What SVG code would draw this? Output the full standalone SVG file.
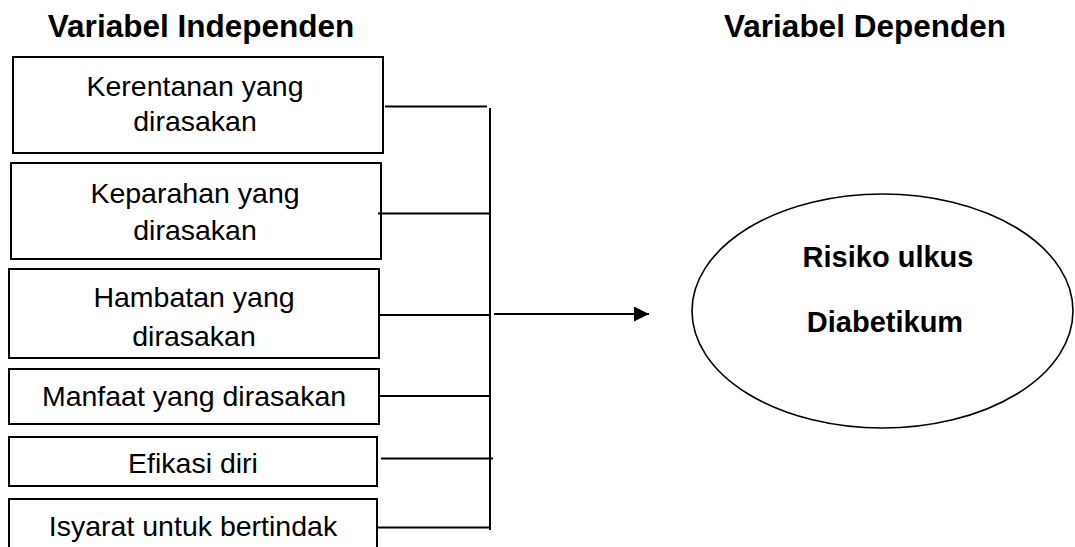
<svg xmlns="http://www.w3.org/2000/svg" width="1075" height="547" viewBox="0 0 1075 547">
<style>
.box{fill:#fff;stroke:#000;stroke-width:2}
.t{font-family:"Liberation Sans",Arial,sans-serif;font-size:28.5px;fill:#000;text-anchor:middle}
.h{font-family:"Liberation Sans",Arial,sans-serif;font-size:31.5px;font-weight:bold;fill:#000;text-anchor:middle}
.b{font-family:"Liberation Sans",Arial,sans-serif;font-size:29px;font-weight:bold;fill:#000;text-anchor:middle}
.ln{stroke:#000;stroke-width:2;fill:none}
</style>
<defs>
<marker id="arr" markerWidth="16" markerHeight="16" refX="15" refY="7.5" orient="auto" markerUnits="userSpaceOnUse">
<path d="M0,0 L15,7.5 L0,15 Z" fill="#000"/>
</marker>
</defs>
<rect width="1075" height="547" fill="#fff"/>
<text class="h" x="201" y="37">Variabel Independen</text>
<text class="h" x="865" y="37">Variabel Dependen</text>
<g id="n1"><rect class="box" x="13" y="57" width="370" height="96"/><text class="t" x="195" y="96">Kerentanan yang</text><text class="t" x="195" y="131">dirasakan</text></g>
<g id="n2"><rect class="box" x="11" y="163" width="370" height="96"/><text class="t" x="195" y="203">Keparahan yang</text><text class="t" x="195" y="240">dirasakan</text></g>
<g id="n3"><rect class="box" x="9" y="269" width="370" height="89"/><text class="t" x="194" y="307">Hambatan yang</text><text class="t" x="194" y="346">dirasakan</text></g>
<g id="n4"><rect class="box" x="9" y="369" width="370" height="55"/><text class="t" x="194" y="406">Manfaat yang dirasakan</text></g>
<g id="n5"><rect class="box" x="9" y="437" width="368" height="49"/><text class="t" x="193" y="473">Efikasi diri</text></g>
<g id="n6"><rect class="box" x="9" y="499" width="368" height="60"/><text class="t" x="193" y="536">Isyarat untuk bertindak</text></g>
<g id="n7"><ellipse cx="882.5" cy="311" rx="190.5" ry="117" fill="#fff" stroke="#000" stroke-width="1.6"/><text class="b" x="888" y="267">Risiko ulkus</text><text class="b" x="885" y="332">Diabetikum</text></g>
<g id="connectors">
<path class="ln" d="M385,106.5 H487"/>
<path class="ln" d="M378,213.5 H490"/>
<path class="ln" d="M379,315 H490"/>
<path class="ln" d="M379,396 H490"/>
<path class="ln" d="M381,458.5 H493"/>
<path class="ln" d="M377,527.5 H490"/>
<path class="ln" d="M490,108 V530"/>
<path class="ln" d="M494,314 H649" marker-end="url(#arr)"/>
</g>
</svg>
